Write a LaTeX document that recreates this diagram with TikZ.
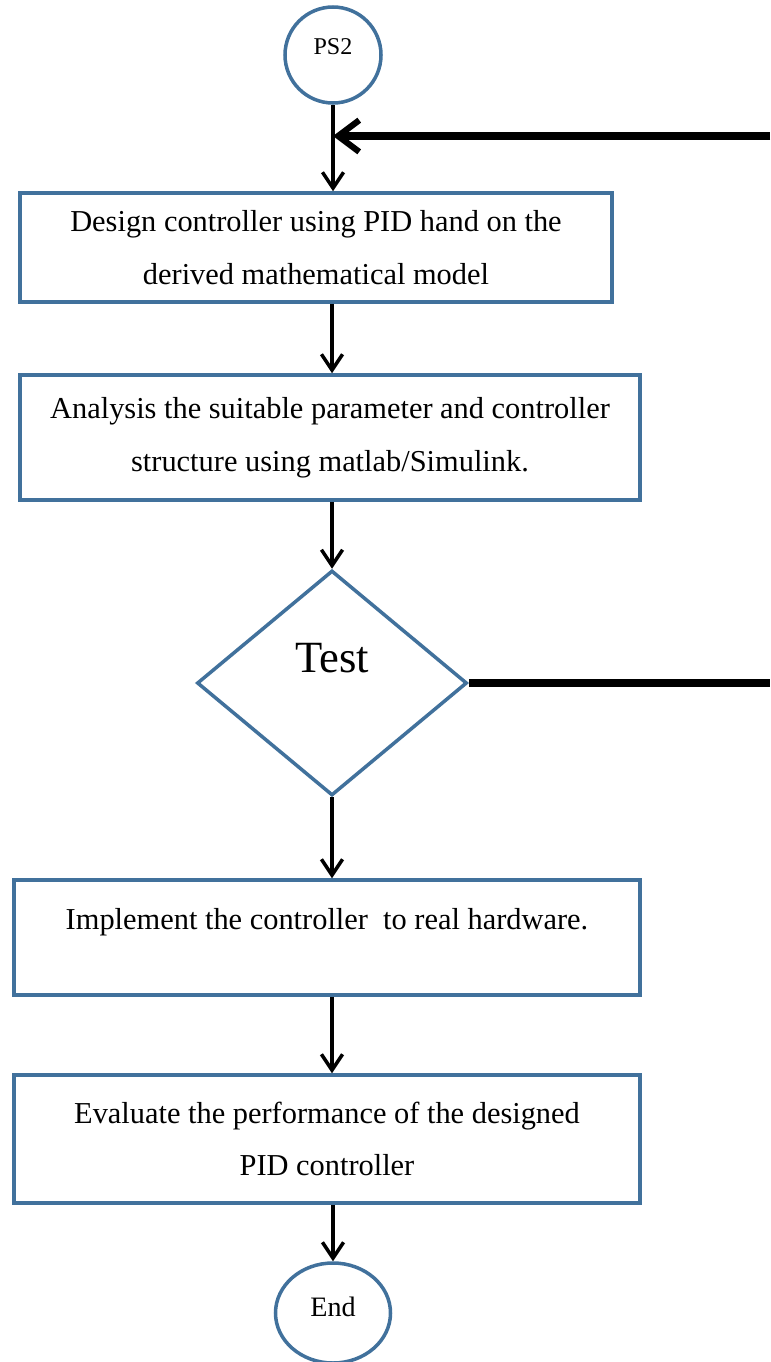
\documentclass[tikz,border=0pt]{standalone}
\usepackage{fontspec}
\setmainfont{Liberation Serif}
\usetikzlibrary{shapes.geometric,arrows.meta}
\definecolor{flowblue}{RGB}{65,113,156}

\begin{document}
\begin{tikzpicture}[
  box/.style={draw=flowblue, line width=2pt, align=center, inner sep=0pt, font=\fontsize{17.3}{30}\selectfont},
  term/.style={draw=flowblue, line width=2pt, inner sep=0pt},
  test/.style={diamond, draw=flowblue, line width=2pt, inner sep=0pt, font=\fontsize{25.4}{28}\selectfont},
  flow/.style={line width=2pt, -{Straight Barb[length=9pt, width=12pt, line width=2pt]}},
  back/.style={line width=4pt, -{Straight Barb[length=12pt, width=18pt, line width=3.5pt]}}
]
\useasboundingbox (0,0) rectangle (15.4,-27.24);

\node[term, circle, minimum size=1.92cm, text depth=0.35cm, font=\fontsize{13.7}{15}\selectfont] (ps2) at (6.66,-1.1) {PS2};
\node[box, minimum width=11.84cm, minimum height=2.18cm] (design) at (6.32,-4.95)
  {Design controller using PID hand on the\\derived mathematical model};
\node[box, minimum width=12.4cm, minimum height=2.5cm] (analysis) at (6.6,-8.75)
  {Analysis the suitable parameter and controller\\structure using matlab/Simulink.};
\node[test, minimum width=5.4cm, minimum height=4.5cm, text depth=1cm] (test) at (6.64,-13.66) {Test};
\node[box, minimum width=12.52cm, minimum height=2.3cm, text depth=0.75cm] (implement) at (6.54,-18.75)
  {Implement the controller\ \ to real hardware.};
\node[box, minimum width=12.52cm, minimum height=2.56cm] (evaluate) at (6.54,-22.78)
  {Evaluate the performance of the designed\\PID controller};
\node[term, ellipse, minimum width=2.3cm, minimum height=2cm, text depth=0.25cm, font=\fontsize{16}{18}\selectfont] (end) at (6.66,-26.26) {End};

% loop back from the test
\coordinate (fbout) at (15.4,-13.66);
\coordinate (fbin) at (15.4,-2.72);

\draw[flow] (ps2.south) -- (ps2.south |- design.north);
\draw[back] (fbin) -- (ps2.south |- fbin);
\draw[flow] (test.north |- design.south) -- (test.north |- analysis.north);
\draw[flow] (test.north |- analysis.south) -- (test.north);
\draw[line width=4pt] (test.east) -- (fbout);
\draw[flow] (test.south) -- (test.south |- implement.north);
\draw[flow] (test.south |- implement.south) -- (test.south |- evaluate.north);
\draw[flow] (end.north |- evaluate.south) -- (end.north);
\end{tikzpicture}
\end{document}
